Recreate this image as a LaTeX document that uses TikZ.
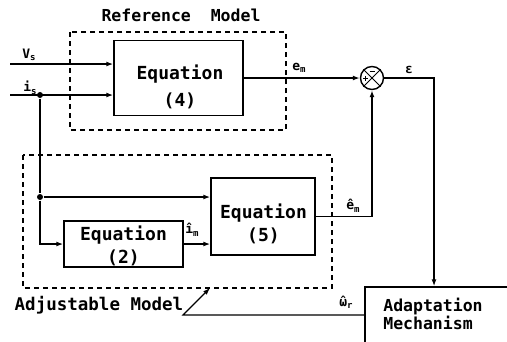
\documentclass[tikz,border=0pt]{standalone}
\usepackage{fontspec}
\setmainfont{DejaVu Sans Mono}
\usetikzlibrary{arrows.meta}
\newcommand\lsub[1]{\raisebox{-0.35ex}{\fontsize{9}{9}\selectfont #1}}
\newcommand\hatover[1]{{\ooalign{#1\cr\hidewidth ˆ\hidewidth\cr}}}
\begin{document}
\begin{tikzpicture}[x=1pt,y=-1pt,
  line width=1.4pt,
  box/.style={draw, rectangle, inner sep=0pt},
  eqtxt/.style={inner sep=0pt, font=\fontsize{18}{23}\selectfont\bfseries, align=center},
  grp/.style={draw, dash pattern=on 5pt off 4pt, line width=1.2pt},
  arr/.style={-{Latex[length=7pt,width=5pt]}},
  lbl/.style={font=\fontsize{13}{13}\selectfont\bfseries, inner sep=0pt},
  title/.style={font=\fontsize{16.5}{16.5}\selectfont\bfseries, inner sep=0pt},
  dot/.style={circle, fill, inner sep=0pt, minimum size=6pt}]
\useasboundingbox (0,0) rectangle (507,341);
\clip (0,0) rectangle (507,341);
% group frames
\draw[grp] (70,32) rectangle (286,130);
\draw[grp] (23,155) rectangle (332,288);
% blocks
\node[box, minimum width=129pt, minimum height=75pt] (eq4) at (178.5,78) {};
\node[eqtxt] (eq4t) at (180,86.5) {Equation\\[4pt](4)};
\node[box, minimum width=104pt, minimum height=77pt] (eq5) at (263,216.5) {};
\node[eqtxt] (eq5t) at (263.5,223.5) {Equation\\(5)};
\node[box, minimum width=119pt, minimum height=46pt] (eq2) at (123.5,244) {};
\node[eqtxt] (eq2t) at (123.5,245.5) {Equation\\(2)};
\node[box, minimum width=160pt, minimum height=56pt] (adapt) at (445,315) {};
\node[eqtxt, font=\fontsize{16.5}{18}\selectfont\bfseries, align=left] (adaptt) at (433,313.5) {Adaptation\\Mechanism};
% summing junction
\node[circle, draw, minimum size=23pt, inner sep=0pt] (sum) at (372,78) {};
\draw[line width=1pt] (sum.north west) -- (sum.south east) (sum.north east) -- (sum.south west);
\draw[line width=0.8pt] ([xshift=-9pt]sum.center) -- ([xshift=-4pt]sum.center)
  ([xshift=-6.5pt,yshift=-2.5pt]sum.center) -- ([xshift=-6.5pt,yshift=2.5pt]sum.center);
\draw[line width=0.8pt] ([xshift=-2.5pt,yshift=7pt]sum.center) -- ([xshift=2.5pt,yshift=7pt]sum.center);
% junction dots and free ends
\node[dot] (j1) at (40,95) {};
\node[dot] (j2) at (40,197) {};
\coordinate (vsin) at (10,64);
\coordinate (isin) at (10,95);
\coordinate (ecorner) at (434,78);
\coordinate (wbend) at (183,315);
\coordinate (wend) at (210,288);
% connectors
\draw[arr] (vsin) -- (vsin -| eq4.west);
\draw[arr] (isin) -- (isin -| eq4.west);
\draw (j1) -- (j2);
\draw[arr] (j2) -- (j2 -| eq5.west);
\draw[arr] (j2) |- (eq2.west);
\draw[arr] (eq2.east) -- (eq2.east -| eq5.west);
\draw[arr] (eq4.east) -- (sum.west);
\draw[arr] (eq5.east) -| (sum.south);
\draw[arr] (sum.east) -- (ecorner) -- (ecorner |- adapt.north);
\draw[arr, line width=1.1pt] (adapt.west |- wbend) -- (wbend) -- (wend);
% labels
\node[lbl] (lvs) at (29,55) {V\lsub{s}};
\node[lbl] (lis) at (30,88) {i\lsub{s}};
\node[lbl] (lem) at (299,68) {e\lsub{m}};
\node[lbl] (leps) at (409,70) {ε};
\node[lbl] (lim) at (192,230) {î\lsub{m}};
\node[lbl] (lhem) at (353,206) {ê\lsub{m}};
\node[lbl] (lwr) at (346,304) {\hatover{ω}\lsub{r}};
\node[title] (tref) at (181,15) {Reference~~Model};
\node[title, font=\fontsize{17.5}{17.5}\selectfont\bfseries] (tadj) at (99,305) {Adjustable Model};
\end{tikzpicture}
\end{document}
